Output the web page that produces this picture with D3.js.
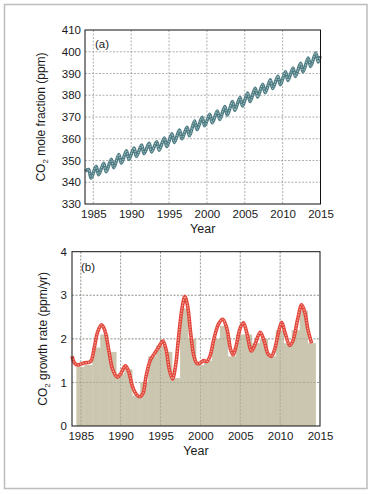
<!DOCTYPE html>
<html><head><meta charset="utf-8">
<script src="https://cdn.jsdelivr.net/npm/d3@7"></script>
<style>
html,body{margin:0;padding:0;background:#fff;}
svg{display:block;font-family:"Liberation Sans",Arial,sans-serif;}
</style></head>
<body><svg id="c" width="373" height="494"></svg>
<script>
// ---- Panel (a): CO2 mole fraction, seasonal maxima / minima per year ----
const co2Years   = [1984,1985,1986,1987,1988,1989,1990,1991,1992,1993,1994,1995,1996,1997,1998,1999,2000,2001,2002,2003,2004,2005,2006,2007,2008,2009,2010,2011,2012,2013,2014];
const co2Peak    = [345.9,347.4,348.8,350.6,352.8,354.5,355.8,357.1,357.9,358.7,360.4,362.3,364.0,365.3,368.2,369.9,371.3,372.8,374.8,377.1,379.0,381.1,383.2,385.1,387.1,388.8,390.8,392.6,394.7,397.2,399.5];
const co2Trough  = [341.9,343.4,344.8,346.6,348.8,350.5,351.8,353.1,353.9,354.7,356.4,358.3,360.0,361.3,364.2,365.9,367.3,368.8,370.8,373.1,375.0,377.1,379.2,381.1,383.1,384.8,386.8,388.6,390.7,393.2,395.3];
const co2Start   = [1983.95, 345.0];
const co2End     = [2014.95, 398.0];
const yTicksA    = [330,340,350,360,370,380,390,400,410];

// ---- Panel (b): growth rate ----
const barYears   = [1985,1986,1987,1988,1989,1990,1991,1992,1993,1994,1995,1996,1997,1998,1999,2000,2001,2002,2003,2004,2005,2006,2007,2008,2009,2010,2011,2012,2013,2014];
const barValues  = [1.36,1.4,1.8,2.1,1.7,1.2,1.3,0.7,1.0,1.6,1.85,1.7,1.1,2.7,2.0,1.4,1.5,2.0,2.3,1.6,2.1,2.1,1.9,2.0,1.6,2.2,1.9,2.2,2.65,1.9];
const rateYears  = [1983.9,1984.2,1984.6,1985.0,1985.5,1986.0,1986.3,1986.7,1987.1,1987.6,1988.0,1988.5,1989.0,1989.6,1990.0,1990.6,1991.0,1991.5,1992.0,1992.4,1992.8,1993.2,1993.7,1994.2,1994.8,1995.3,1995.7,1996.1,1996.5,1996.9,1997.3,1997.7,1998.05,1998.4,1998.8,1999.2,1999.6,2000.0,2000.4,2000.8,2001.2,2001.7,2002.3,2002.8,2003.3,2003.8,2004.1,2004.5,2005.0,2005.4,2005.8,2006.4,2006.8,2007.5,2008.0,2008.5,2008.9,2009.3,2009.8,2010.2,2010.6,2011.2,2011.6,2012.2,2012.7,2013.1,2013.5,2013.95];
const rateValues = [1.60,1.45,1.40,1.42,1.45,1.46,1.50,1.80,2.15,2.32,2.20,1.75,1.30,1.12,1.20,1.38,1.25,0.90,0.72,0.67,0.75,1.15,1.50,1.65,1.82,1.95,1.75,1.30,1.08,1.40,2.10,2.70,2.97,2.75,2.10,1.60,1.43,1.45,1.50,1.48,1.60,2.00,2.35,2.45,2.25,1.75,1.63,1.85,2.25,2.37,2.15,1.72,1.85,2.15,1.95,1.65,1.60,1.75,2.15,2.38,2.15,1.85,1.95,2.45,2.78,2.60,2.20,1.90];
const yTicksB    = [0,1,2,3,4];
const xTicks     = [1985,1990,1995,2000,2005,2010,2015];

const svg = d3.select("#c");
svg.append("rect").attr("x",4.5).attr("y",4.5).attr("width",362.5).attr("height",484)
  .attr("fill","#fff").attr("stroke","#bdbdbd").attr("stroke-width",1.5);

function panel(o){
  const g = svg.append("g");
  const x = d3.scaleLinear().domain([1983.9,2015]).range([o.left,o.right]);
  const y = d3.scaleLinear().domain(o.ydom).range([o.bottom,o.top]);
  // grid
  g.selectAll(".gx").data(xTicks.filter(t=>t<2015)).enter().append("line")
    .attr("x1",d=>x(d)).attr("x2",d=>x(d)).attr("y1",o.top).attr("y2",o.bottom)
    .attr("stroke","#9a9a9a").attr("stroke-width",0.8).attr("stroke-dasharray","2,1.5");
  g.selectAll(".gy").data(o.yticks.slice(1,-1)).enter().append("line")
    .attr("y1",d=>y(d)).attr("y2",d=>y(d)).attr("x1",o.left).attr("x2",o.right)
    .attr("stroke","#9a9a9a").attr("stroke-width",0.8).attr("stroke-dasharray","2,1.5");
  return {g,x,y};
}
function axes(p,o,ylabel,ysub){
  const {g,x,y} = p;
  const ax = g.append("g").attr("transform",`translate(0,${o.bottom})`)
    .call(d3.axisBottom(x).tickValues(xTicks).tickFormat(d3.format("d")).tickSize(0).tickPadding(o.xpad));
  ax.select(".domain").remove();
  ax.selectAll("text").attr("font-size",11.5).attr("fill","#1a1a1a").attr("font-family","Liberation Sans, Arial, sans-serif");
  const ay = g.append("g").attr("transform",`translate(${o.left},0)`)
    .call(d3.axisLeft(y).tickValues(o.yticks).tickFormat(d3.format("d")).tickSize(0).tickPadding(o.ypad));
  ay.select(".domain").remove();
  ay.selectAll("text").attr("font-size",11.5).attr("fill","#1a1a1a").attr("font-family","Liberation Sans, Arial, sans-serif");
  g.append("rect").attr("x",o.left).attr("y",o.top).attr("width",o.right-o.left).attr("height",o.bottom-o.top)
    .attr("fill","none").attr("stroke","#111").attr("stroke-width",1);
  g.append("text").attr("x",(o.left+o.right)/2).attr("y",o.bottom+o.yearDy)
    .attr("text-anchor","middle").attr("font-size",12.5).attr("fill","#1a1a1a").text("Year");
  const t = g.append("text").attr("transform",`translate(${o.ylabX},${(o.top+o.bottom)/2}) rotate(-90)`)
    .attr("text-anchor","middle").attr("font-size",12).attr("fill","#1a1a1a");
  t.append("tspan").text("CO");
  t.append("tspan").text("2").attr("font-size",8).attr("dy",3);
  t.append("tspan").text(ylabel).attr("dy",-3);
  g.append("text").attr("x",o.tagX).attr("y",o.tagY).attr("font-size",11.5).attr("fill","#1a1a1a").text(o.tag);
}

// Panel a
const oa = {left:85,right:320.5,top:30,bottom:204,ydom:[330,410],yticks:yTicksA,xpad:6,ypad:4,yearDy:29,ylabX:45,tag:"(a)",tagX:95,tagY:48};
const pa = panel(oa);
const ptsA = [co2Start];
co2Years.forEach((yr,i)=>{ ptsA.push([yr+0.37,co2Peak[i]]); ptsA.push([yr+0.70,co2Trough[i]]); });
ptsA.push(co2End);
const lineA = d3.line().x(d=>pa.x(d[0])).y(d=>pa.y(d[1])).curve(d3.curveCatmullRom.alpha(0.5));
pa.g.append("path").datum(ptsA).attr("d",lineA).attr("fill","none").attr("stroke","#4d7b82").attr("stroke-width",3.4);
pa.g.append("path").datum(ptsA).attr("d",lineA).attr("fill","none").attr("stroke","#a9c6c8").attr("stroke-width",1.1).attr("stroke-dasharray","1.3,1.2");
axes(pa,oa," mole fraction (ppm)");

// Panel b
const ob = {left:72,right:320,top:251.7,bottom:426,ydom:[0,4],yticks:yTicksB,xpad:6,ypad:5,yearDy:29,ylabX:47,tag:"(b)",tagX:81,tagY:271};
const pb = panel(ob);
pb.g.insert("g",":first-child");
const bars = pb.g.append("g");
bars.selectAll("rect").data(barYears).enter().append("rect")
  .attr("x",d=>pb.x(d-0.55)).attr("width",d=>pb.x(d+0.45)-pb.x(d-0.55)+0.3)
  .attr("y",(d,i)=>pb.y(barValues[i])).attr("height",(d,i)=>pb.y(0)-pb.y(barValues[i]))
  .attr("fill","#c6c1a8").attr("opacity",0.92);
// re-draw grid over bars lightly
pb.g.selectAll(".gx2").data(xTicks.filter(t=>t<2015)).enter().append("line")
  .attr("x1",d=>pb.x(d)).attr("x2",d=>pb.x(d)).attr("y1",ob.top).attr("y2",ob.bottom)
  .attr("stroke","#8a8a7a").attr("stroke-width",0.7).attr("stroke-dasharray","2,1.5").attr("opacity",0.6);
pb.g.selectAll(".gy2").data(yTicksB.slice(1,-1)).enter().append("line")
  .attr("y1",d=>pb.y(d)).attr("y2",d=>pb.y(d)).attr("x1",ob.left).attr("x2",ob.right)
  .attr("stroke","#8a8a7a").attr("stroke-width",0.7).attr("stroke-dasharray","2,1.5").attr("opacity",0.6);
const ptsB = rateYears.map((yr,i)=>[yr,rateValues[i]]);
const lineB = d3.line().x(d=>pb.x(d[0])).y(d=>pb.y(d[1])).curve(d3.curveCatmullRom.alpha(0.5));
pb.g.append("path").datum(ptsB).attr("d",lineB).attr("fill","none").attr("stroke","#e2463b").attr("stroke-width",3.6);
pb.g.append("path").datum(ptsB).attr("d",lineB).attr("fill","none").attr("stroke","#f3a79c").attr("stroke-width",1.2).attr("stroke-dasharray","1.4,1.3");
axes(pb,ob," growth rate (ppm/yr)");
</script></body></html>
